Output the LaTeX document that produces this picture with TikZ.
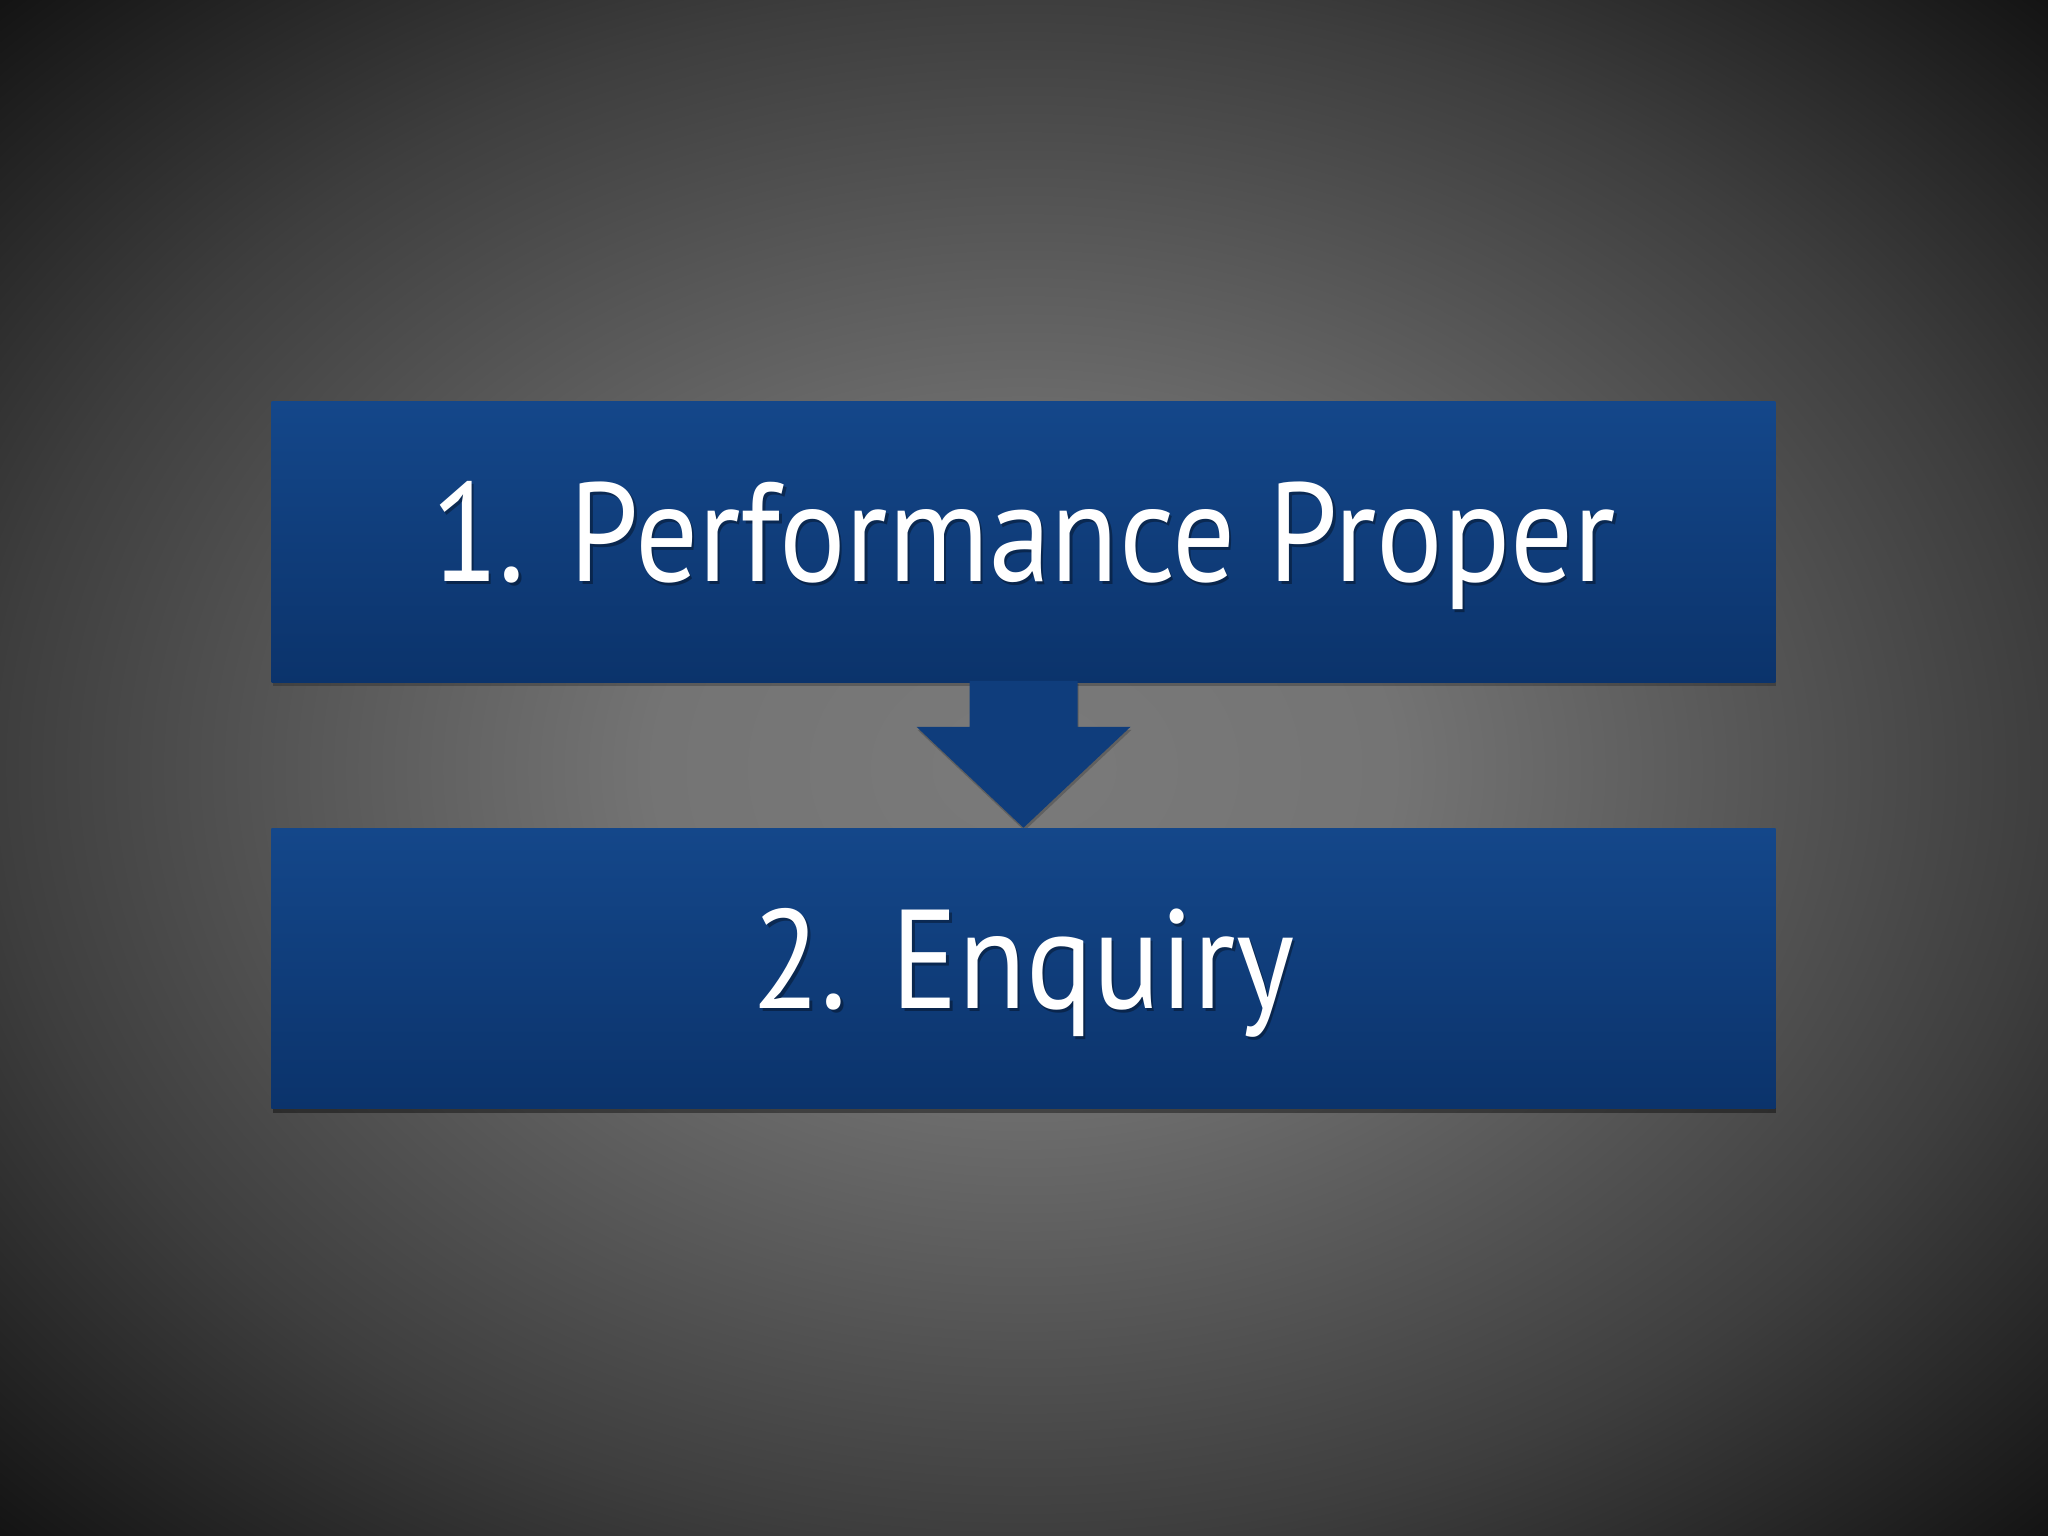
\documentclass[tikz,border=0pt]{standalone}
\usepackage{fontspec}
\setmainfont{PT Sans}
\usetikzlibrary{calc,shadows}
\definecolor{bgin}{HTML}{7A7A7A}
\definecolor{bgin2}{HTML}{747474}
\definecolor{bgmid}{HTML}{3E3E3E}
\definecolor{bgout}{HTML}{131313}
\definecolor{boxtop}{HTML}{14478A}
\definecolor{boxbot}{HTML}{0B336B}
\definecolor{arrowblue}{HTML}{0F3D7C}
\pgfdeclareradialshading{vignette}{\pgfpoint{0bp}{0bp}}{color(0bp)=(bgin); color(9bp)=(bgin2); color(25bp)=(bgmid); color(35.5bp)=(bgout); color(50bp)=(bgout)}
\tikzset{
  stepbox/.style={rectangle, inner sep=0pt, minimum width=15.03cm, minimum height=2.8cm,
    top color=boxtop, bottom color=boxbot, draw=none,
    drop shadow={shadow xshift=0.01cm, shadow yshift=-0.04cm, opacity=0.22, fill=black}},
  boxtext/.style={anchor=base, text=white, font=\fontsize{40}{46}\selectfont},
  textshadow/.style={anchor=base, text=black, opacity=0.35, font=\fontsize{40}{46}\selectfont},
}
\newcommand{\narrow}[1]{\scalebox{0.885}[1]{#1}}
\begin{document}
\begin{tikzpicture}[x=0.01cm,y=-0.01cm]
\useasboundingbox (0,0) rectangle (2048,1536);
\shade[shading=vignette] (0,0) rectangle (2048,1536);
\node[stepbox] (b1) at (1023.5,542) {};
\node[stepbox] (b2) at (1023.5,968.5) {};
\coordinate (a0) at ($(b1.south)+(0,-2)$);
\fill[arrowblue, drop shadow={shadow xshift=0.01cm, shadow yshift=-0.03cm, opacity=0.2, fill=black}]
  ($(a0)+(-54,0)$) -- ($(b1.south)+(-54,44)$) -- ($(b1.south)+(-107,44)$) -- (b2.north)
  -- ($(b1.south)+(107,44)$) -- ($(b1.south)+(54,44)$) -- ($(a0)+(54,0)$) -- cycle;
\node[stepbox] (b2) at (1023.5,968.5) {};
\node[textshadow] at (1026,584) {\narrow{1. Performance Proper}};
\node[boxtext] (t1) at (1023.5,581) {\narrow{1. Performance Proper}};
\node[textshadow] at (1026,1011) {\narrow{2. Enquiry}};
\node[boxtext] (t2) at (1023.5,1008) {\narrow{2. Enquiry}};
\end{tikzpicture}
\end{document}
